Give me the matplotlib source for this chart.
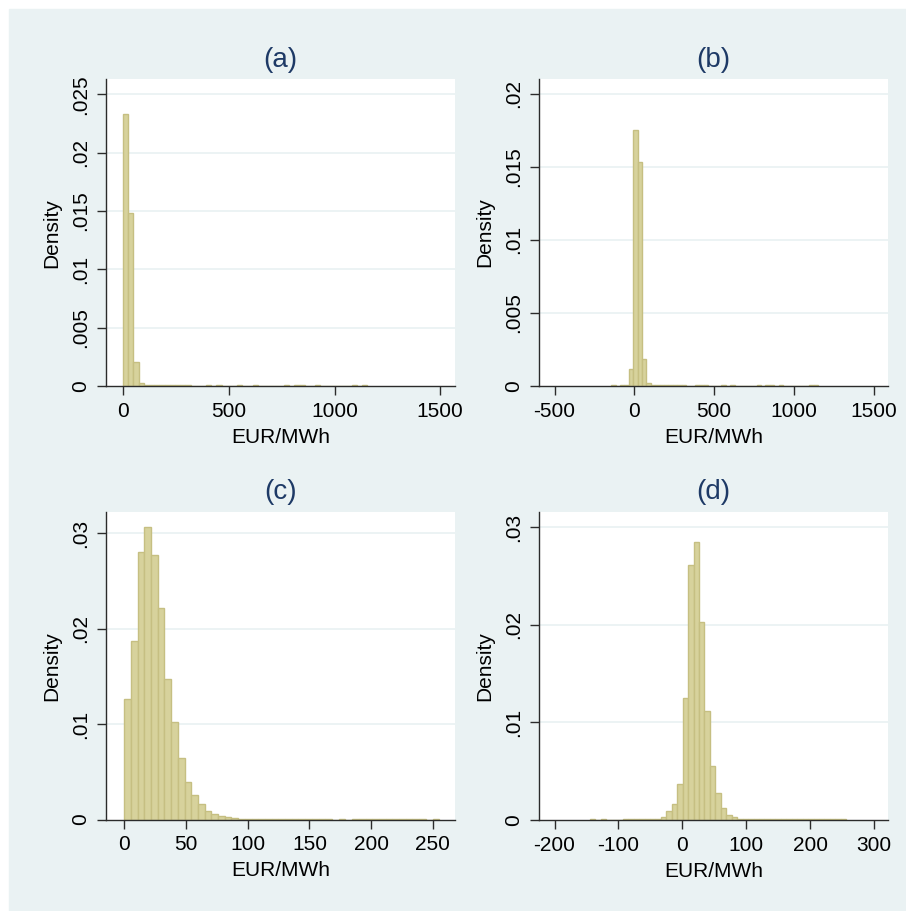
import matplotlib
matplotlib.use("Agg")
import matplotlib.pyplot as plt
import numpy as np
from matplotlib.patches import Rectangle

plt.rcParams['font.family'] = ['Liberation Sans', 'DejaVu Sans']

# ====== data: histogram bin heights (47 bins each) ======
# (a) raw prices, full range
a_start, a_width = -1.4, 24.58
a_heights = [.0233, .0148, .0021, .0003, .00012,
             .00008, .00008, .00008, .00008, .00008, .00008, .00008, .00008,
             0, 0, 0, .00008, 0, .00008, 0, 0, 0, .00008, 0, 0, .00008,
             0, 0, 0, 0, 0, .00008, 0, .00008, .00008, 0, 0, .00008,
             0, 0, 0, 0, 0, 0, .00008, 0, .00008]

# (b) incl. negative prices
b_start, b_width = -144.4, 27.6
b_heights = [.00007, 0, .00007, .00007, .00115, .0175, .0153, .0018, .0002,
             .00007, .00007, .00007, .00007, .00007, .00007, .00007, .00007,
             0, 0, .00007, .00007, .00007, 0, 0, 0, .00007, 0, .00007,
             0, 0, 0, 0, 0, .00007, 0, .00007, .00007, 0, .00007,
             0, 0, 0, 0, 0, 0, .00007, .00007]

# (c) trimmed range
c_start, c_width = 0.0, 5.43
c_heights = [.01259, .01867, .0280, .03063, .0277, .02213, .01476, .01021,
             .0065, .00388, .00252, .00161, .00094, .00056, .00035, .00024,
             .00014, .0001, .0001, .0001, .0001, .0001, .0001, .0001,
             .0001, .0001, .0001, .0001, .0001, .0001, .0001,
             0, .0001, 0, .0001, .0001, .0001, .0001, .0001, .0001,
             .0001, .0001, .0001, .0001, .0001, 0, .0001]

# (d) trimmed range incl. negative prices
d_start, d_width = -144.4, 8.53
d_heights = [.0001, 0, .0001, 0, 0, 0, .0001, .0001, .0001, .0001,
             .0001, .0001, .00012, .00034, .00092, .00164, .00373, .01247,
             .0261, .0285, .0203, .0112, .00558, .00277, .00127, .00055,
             .00027, .00014, .0001, .0001, .0001, .0001, .0001, .0001,
             .0001, .0001, .0001, .0001, .0001, .0001, .0001, .0001,
             .0001, .0001, .0001, .0001, .0001]

titles = ['(a)', '(b)', '(c)', '(d)']
a_xticks = [0, 500, 1000, 1500]
b_xticks = [-500, 0, 500, 1000, 1500]
c_xticks = [0, 50, 100, 150, 200, 250]
d_xticks = [-200, -100, 0, 100, 200, 300]
a_yticks = [0, .005, .01, .015, .02, .025]
b_yticks = [0, .005, .01, .015, .02]
cd_yticks = [0, .01, .02, .03]

BG = '#EAF2F3'
BAR = '#D7D29C'
BAR_EDGE = '#C6BF82'
TITLE = '#1E3A66'

W, H = 906, 911
fig = plt.figure(figsize=(W / 100, H / 100), dpi=100)
fig.patch.set_facecolor('white')
fig.patches.append(Rectangle((9 / W, 0), 1 - 9 / W, 1 - 9 / H,
                             transform=fig.transFigure, color=BG, zorder=-10))


def px_axes(left, right, top, bottom):
    return fig.add_axes([left / W, 1 - bottom / H, (right - left) / W, (bottom - top) / H])


def yfmt(v):
    if v == 0:
        return '0'
    return ('%g' % v).lstrip('0')


def draw(ax, title, start, width, heights, xticks, yticks, xlim, ylim):
    heights = np.asarray(heights)
    edges = start + width * np.arange(len(heights))
    ax.bar(edges, heights, width=width, align='edge', color=BAR,
           edgecolor=BAR_EDGE, linewidth=1.0, zorder=3)
    ax.set_facecolor('white')
    for s in ['top', 'right']:
        ax.spines[s].set_visible(False)
    for s in ['left', 'bottom']:
        ax.spines[s].set_color('#2b2b2b')
        ax.spines[s].set_linewidth(1.0)
        ax.spines[s].set_zorder(4)
    ax.set_xlim(*xlim)
    ax.set_ylim(*ylim)
    ax.set_xticks(xticks)
    ax.set_xticklabels([str(t) for t in xticks])
    ax.set_yticks(yticks)
    ax.set_yticklabels([yfmt(t) for t in yticks], rotation=90, va='center')
    ax.tick_params(axis='both', direction='out', length=6.5, width=1.0,
                   color='#2b2b2b', labelsize=15, pad=5)
    for t in yticks[1:]:
        ax.axhline(t, color=BG, linewidth=1.3, zorder=1)
    ax.set_xlabel('EUR/MWh', fontsize=15, labelpad=5)
    ax.set_ylabel('Density', fontsize=15, labelpad=7)
    ax.set_title(title, fontsize=20, color=TITLE, pad=9)


ax_a = px_axes(106, 455, 79.3, 386)
draw(ax_a, titles[0], a_start, a_width, a_heights, a_xticks, a_yticks,
     (-82, 1570), (0, 0.0263))

ax_b = px_axes(539.3, 888, 79.3, 385.7)
draw(ax_b, titles[1], b_start, b_width, b_heights, b_xticks, b_yticks,
     (-595.6, 1590.6), (0, 0.0210))

ax_c = px_axes(106, 455, 511.7, 819.5)
draw(ax_c, titles[2], c_start, c_width, c_heights, c_xticks, cd_yticks,
     (-14.8, 268), (0, 0.03227))

ax_d = px_axes(539.3, 888, 511.7, 820)
draw(ax_d, titles[3], d_start, d_width, d_heights, d_xticks, cd_yticks,
     (-223.8, 321.9), (0, 0.0316))

fig.savefig('out.png', dpi=100, facecolor=fig.get_facecolor())
